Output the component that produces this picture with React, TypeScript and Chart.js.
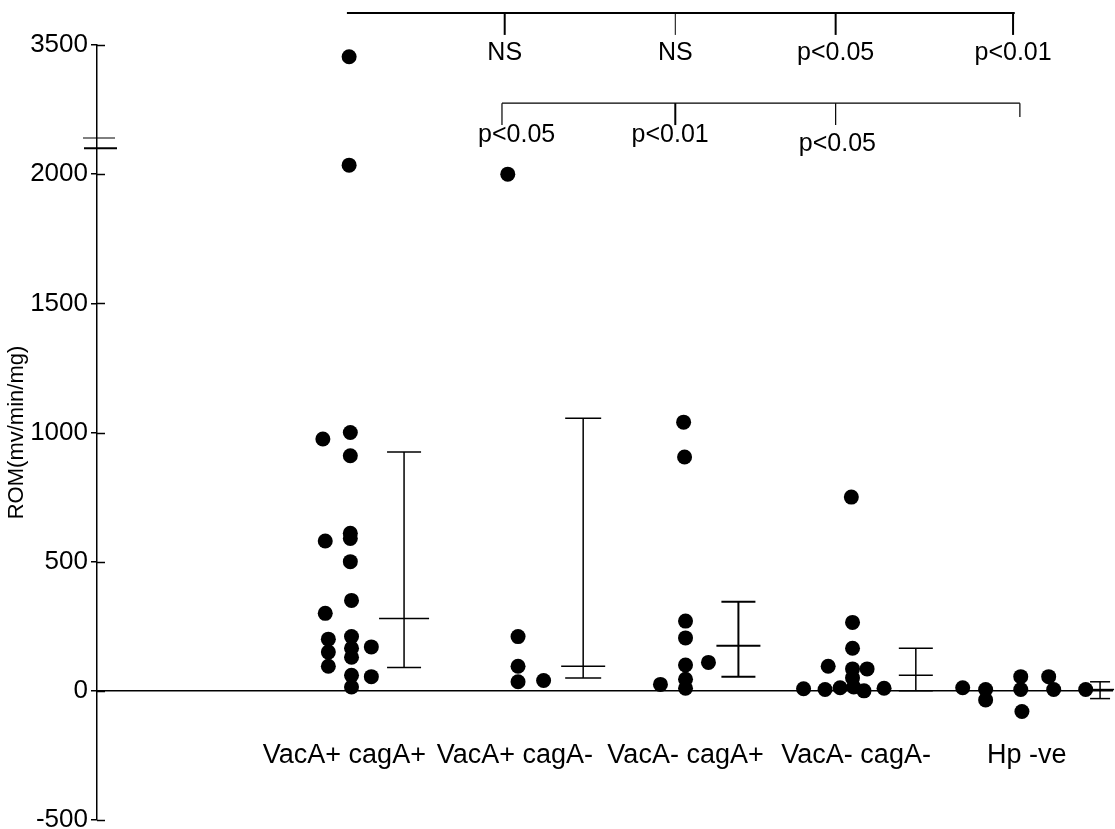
import React, { useEffect, useRef } from 'react';
import { Chart, registerables } from 'chart.js';

Chart.register(...registerables);

const FONT = '"Liberation Sans", Arial, Helvetica, sans-serif';

const categories = ['VacA+ cagA+', 'VacA+ cagA-', 'VacA- cagA+', 'VacA- cagA-', 'Hp -ve'];

// ROM values (mv/min/mg) of each subject, and the horizontal lane each dot sits in
const g1Values = [3340, 2035, 975, 1000, 910, 580, 610, 590, 500, 350, 300, 200, 150, 95, 210, 165, 130, 60, 15, 170, 55];
const g1Lanes = [0.2, 0.2, -0.9, 0.25, 0.25, -0.8, 0.25, 0.25, 0.25, 0.3, -0.8, -0.67, -0.67, -0.67, 0.3, 0.3, 0.3, 0.3, 0.3, 1.13, 1.13];
const g2Values = [2000, 210, 95, 35, 40];
const g2Lanes = [-0.3, 0.13, 0.13, 0.13, 1.2];
const g3Values = [1040, 905, 270, 205, 100, 45, 10, 110, 25];
const g3Lanes = [-0.08, -0.04, 0, 0, 0, 0, 0, 0.96, -1.05];
const g4Values = [750, 265, 165, 85, 50, 15, 95, 85, 8, 5, 12, 0, 10];
const g4Lanes = [-0.2, -0.15, -0.15, -0.15, -0.15, -0.1, -1.17, 0.46, -2.2, -1.3, -0.67, 0.33, 1.17];
const g5Values = [12, 5, -35, 55, 5, -80, 55, 5, 5];
const g5Lanes = [-2.68, -1.72, -1.72, -0.25, -0.25, -0.2, 0.92, 1.13, 2.47];

// summary bars per group (upper, centre, lower)
const barHigh = [925, 1055, 345, 165, 35];
const barMid = [280, 95, 175, 60, 5];
const barLow = [90, 50, 55, 0, -30];

// significance labels
const topLabels = ['NS', 'NS', 'p<0.05', 'p<0.01'];
const lowLabels = ['p<0.05', 'p<0.01', 'p<0.05', ''];

// y tick values (axis broken above 2100)
const yTickValues = [-500, 0, 500, 1000, 1500, 2000, 3500];

// ---------- layout / style constants ----------
const W = 1115;
const H = 829;
const BREAK = 2100;
const BREAK_TOP = 3500;
const BREAK_SHOWN = 2500;
const toAxis = (v: number) => (v <= BREAK ? v : BREAK + ((v - BREAK) * (BREAK_SHOWN - BREAK)) / (BREAK_TOP - BREAK));

const LANE = 0.14;
const barOffset = [0.35, 0.4, 0.31, 0.35, 0.43];
const capR = [17, 18, 17, 17, 10];
const midR = [25, 22, 22, 17, 14];

const TOP = { x0: 1.015, x1: 4.93, line: 2624, tickEnd: 2539, label: 2468, ticks: [1.94, 2.94, 3.88, 4.92] };
const LOW = {
  x0: 1.924,
  x1: 4.96,
  line: 2275,
  tickEnds: [2190, 2190, 2190, 2221],
  ticks: [1.924, 2.94, 3.88, 4.96],
  labelX: [2.01, 2.91, 3.89],
  labelY: [2152, 2152, 2117],
};

const groups = [
  { values: g1Values, lanes: g1Lanes },
  { values: g2Values, lanes: g2Lanes },
  { values: g3Values, lanes: g3Lanes },
  { values: g4Values, lanes: g4Lanes },
  { values: g5Values, lanes: g5Lanes },
];

const annotationPlugin = {
  id: 'sigAnnotations',
  afterDraw(chart: any) {
    const { ctx } = chart;
    const xs = chart.scales.x;
    const ys = chart.scales.y;
    const px = (v: number) => xs.getPixelForValue(v);
    const py = (v: number) => ys.getPixelForValue(v);
    const left = chart.chartArea.left;
    ctx.save();
    ctx.strokeStyle = '#000';
    ctx.fillStyle = '#000';

    // inner half of the y tick marks (they cross the axis)
    ctx.lineWidth = 1.5;
    ys.ticks.forEach((t: any) => {
      const y = Math.round(py(t.value)) + 0.5;
      ctx.beginPath();
      ctx.moveTo(left, y);
      ctx.lineTo(left + 8, y);
      ctx.stroke();
    });

    // axis break marks
    ctx.lineWidth = 1;
    ctx.beginPath();
    ctx.moveTo(left - 14, py(2140));
    ctx.lineTo(left + 18, py(2140));
    ctx.stroke();
    ctx.lineWidth = 2;
    ctx.beginPath();
    ctx.moveTo(left - 13, py(BREAK));
    ctx.lineTo(left + 20, py(BREAK));
    ctx.stroke();

    ctx.font = `25px ${FONT}`;
    ctx.textAlign = 'center';
    ctx.textBaseline = 'middle';

    // top comparison bracket
    ctx.lineWidth = 2;
    ctx.beginPath();
    ctx.moveTo(px(TOP.x0), py(TOP.line));
    ctx.lineTo(px(TOP.x1), py(TOP.line));
    ctx.stroke();
    TOP.ticks.forEach((tx, i) => {
      ctx.lineWidth = i === 1 ? 1 : 2;
      ctx.beginPath();
      ctx.moveTo(px(tx), py(TOP.line));
      ctx.lineTo(px(tx), py(TOP.tickEnd));
      ctx.stroke();
      ctx.fillText(topLabels[i], px(tx), py(TOP.label));
    });

    // lower comparison bracket
    ctx.lineWidth = 1.2;
    ctx.beginPath();
    ctx.moveTo(px(LOW.x0), py(LOW.line));
    ctx.lineTo(px(LOW.x1), py(LOW.line));
    ctx.stroke();
    LOW.ticks.forEach((tx, i) => {
      ctx.lineWidth = i === 1 ? 2 : 1.2;
      ctx.beginPath();
      ctx.moveTo(px(tx), py(LOW.line));
      ctx.lineTo(px(tx), py(LOW.tickEnds[i]));
      ctx.stroke();
    });
    lowLabels.forEach((t, i) => {
      if (!t) return;
      ctx.fillText(t, px(LOW.labelX[i]), py(LOW.labelY[i]));
    });
    ctx.restore();
  },
};

export default function App() {
  const ref = useRef<HTMLCanvasElement | null>(null);

  useEffect(() => {
    document.body.style.margin = '0';
    document.body.style.overflow = 'hidden';
    const canvas = ref.current;
    if (!canvas) return;

    const dots = groups.flatMap((g, gi) =>
      g.values.map((v, i) => ({ x: gi + 1 + g.lanes[i] * LANE, y: toAxis(v) }))
    );

    const datasets: any[] = [
      {
        label: 'ROM',
        data: dots,
        pointRadius: 7.5,
        pointHoverRadius: 7.5,
        pointBackgroundColor: '#000',
        pointBorderColor: '#000',
        pointBorderWidth: 0,
        showLine: false,
        clip: false,
      },
    ];

    categories.forEach((_, gi) => {
      const bx = gi + 1 + barOffset[gi];
      datasets.push({
        label: 'whisker' + gi,
        data: [
          { x: bx, y: toAxis(barLow[gi]) },
          { x: bx, y: toAxis(barHigh[gi]) },
        ],
        showLine: true,
        borderColor: '#000',
        borderWidth: gi === 2 ? 2 : 1.5,
        pointRadius: 0,
        clip: false,
      });
      datasets.push({
        label: 'caps' + gi,
        data: [
          { x: bx, y: toAxis(barHigh[gi]) },
          { x: bx, y: toAxis(barMid[gi]) },
          { x: bx, y: toAxis(barLow[gi]) },
        ],
        showLine: false,
        pointStyle: 'line',
        pointRadius: [capR[gi], midR[gi], capR[gi]],
        pointBorderColor: '#000',
        pointBorderWidth: gi === 2 ? 2 : 1.5,
        clip: false,
      });
    });

    const chart = new Chart(canvas, {
      type: 'scatter',
      data: { datasets },
      plugins: [annotationPlugin],
      options: {
        animation: false,
        responsive: false,
        maintainAspectRatio: false,
        devicePixelRatio: 1,
        layout: { autoPadding: false, padding: { top: 45, right: 3, bottom: 9, left: 0 } },
        plugins: {
          legend: { display: false },
          tooltip: { enabled: false },
          title: { display: false },
        },
        scales: {
          x: {
            type: 'linear',
            min: -0.45,
            max: 5.5,
            position: { y: 0 } as any,
            afterBuildTicks: (s: any) => {
              s.ticks = categories.map((_, i) => ({ value: i + 1 }));
            },
            afterFit: (s: any) => {
              s.paddingLeft = 0;
              s.paddingRight = 0;
              s.paddingTop = 0;
              s.paddingBottom = 0;
            },
            ticks: {
              callback: (v: any) => categories[Number(v) - 1] ?? '',
              padding: 49,
              autoSkip: false,
              maxRotation: 0,
              color: '#000',
              font: { size: 27, family: FONT },
            },
            grid: { display: false, drawTicks: false },
            border: { display: true, color: '#000', width: 1.5 },
          },
          y: {
            type: 'linear',
            min: -500,
            max: BREAK_SHOWN,
            afterBuildTicks: (s: any) => {
              s.ticks = yTickValues.map((v) => ({ value: toAxis(v) }));
            },
            afterFit: (s: any) => {
              s.width = 97;
              s.paddingTop = 0;
              s.paddingBottom = 0;
            },
            ticks: {
              callback: (v: any) => {
                const n = Number(v);
                return n === BREAK_SHOWN ? String(BREAK_TOP) : String(n);
              },
              padding: 3,
              color: '#000',
              font: { size: 26, family: FONT },
            },
            grid: { display: true, drawOnChartArea: false, drawTicks: true, tickLength: 6, color: '#000', lineWidth: 1.5 },
            border: { display: true, color: '#000', width: 1.5 },
            title: {
              display: true,
              text: 'ROM(mv/min/mg)',
              color: '#000',
              font: { size: 22, family: FONT },
              padding: { top: 4, bottom: 0 },
            },
          },
        },
      },
    });

    return () => chart.destroy();
  }, []);

  return (
    <div style={{ width: W, height: H, position: 'relative', overflow: 'hidden' }}>
      <canvas ref={ref} width={W} height={H} style={{ display: 'block', width: W, height: H }} />
    </div>
  );
}
